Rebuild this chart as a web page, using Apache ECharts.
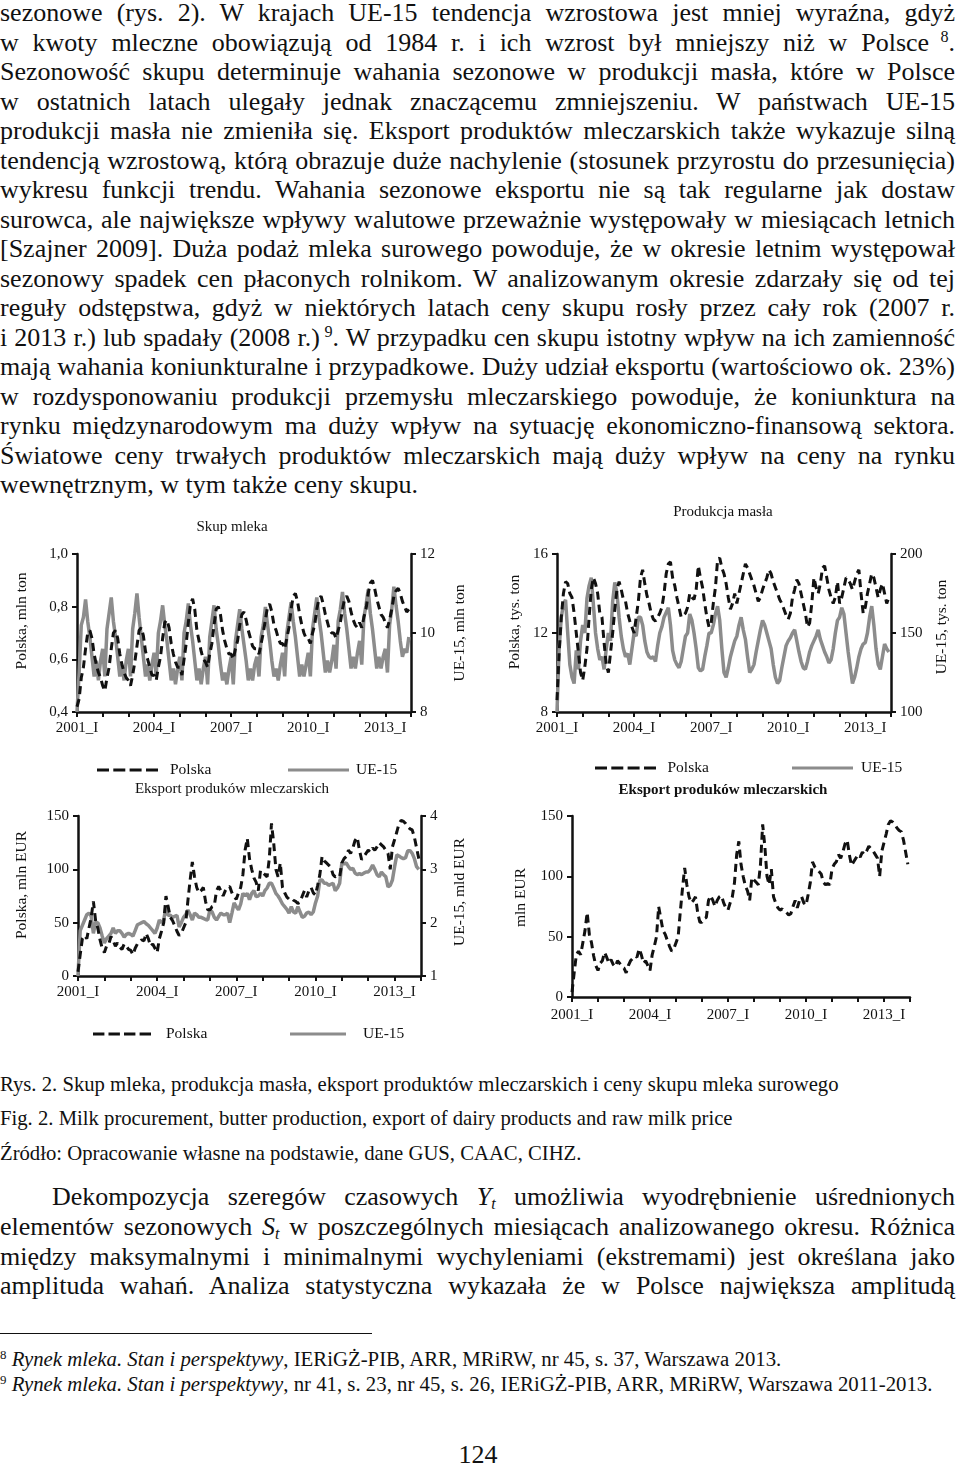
<!DOCTYPE html>
<html><head><meta charset="utf-8">
<script src="https://cdn.jsdelivr.net/npm/echarts/dist/echarts.min.js"></script>
<style>
html,body{margin:0;padding:0;background:#fff;}
#page{position:relative;width:960px;height:1467px;overflow:hidden;font-family:"Liberation Serif","Times New Roman",serif;color:#111;}
.ln{position:absolute;left:0;width:955px;font-size:26px;line-height:29.5px;white-space:nowrap;text-align:left;}
.cap{position:absolute;left:0;font-size:20.7px;line-height:24px;white-space:nowrap;}
.fn{position:absolute;left:0;font-size:20.8px;line-height:24px;white-space:nowrap;}
sup,sub{font-size:0.62em;line-height:0;}
sup{vertical-align:0.55em;}
sub{vertical-align:-0.25em;}
#chart{position:absolute;left:0;top:0;width:960px;height:1467px;}
</style></head>
<body><div id="page">
<div class="ln j" style="top:-2px">sezonowe (rys. 2). W krajach UE-15 tendencja wzrostowa jest mniej wyraźna, gdyż</div>
<div class="ln j" style="top:27.5px">w kwoty mleczne obowiązują od 1984 r. i ich wzrost był mniejszy niż w Polsce<sup> 8</sup>.</div>
<div class="ln j" style="top:57px">Sezonowość skupu determinuje wahania sezonowe w produkcji masła, które w Polsce</div>
<div class="ln j" style="top:86.5px">w ostatnich latach ulegały jednak znaczącemu zmniejszeniu. W państwach UE-15</div>
<div class="ln j" style="top:116px">produkcji masła nie zmieniła się. Eksport produktów mleczarskich także wykazuje silną</div>
<div class="ln j" style="top:145.5px">tendencją wzrostową, którą obrazuje duże nachylenie (stosunek przyrostu do przesunięcia)</div>
<div class="ln j" style="top:175px">wykresu funkcji trendu. Wahania sezonowe eksportu nie są tak regularne jak dostaw</div>
<div class="ln j" style="top:204.5px">surowca, ale największe wpływy walutowe przeważnie występowały w miesiącach letnich</div>
<div class="ln j" style="top:234px">[Szajner 2009]. Duża podaż mleka surowego powoduje, że w okresie letnim występował</div>
<div class="ln j" style="top:263.5px">sezonowy spadek cen płaconych rolnikom. W analizowanym okresie zdarzały się od tej</div>
<div class="ln j" style="top:293px">reguły odstępstwa, gdyż w niektórych latach ceny skupu rosły przez cały rok (2007 r.</div>
<div class="ln j" style="top:322.5px">i 2013 r.) lub spadały (2008 r.)<sup> 9</sup>. W przypadku cen skupu istotny wpływ na ich zamienność</div>
<div class="ln j" style="top:352px">mają wahania koniunkturalne i przypadkowe. Duży udział eksportu (wartościowo ok. 23%)</div>
<div class="ln j" style="top:381.5px">w rozdysponowaniu produkcji przemysłu mleczarskiego powoduje, że koniunktura na</div>
<div class="ln j" style="top:411px">rynku międzynarodowym ma duży wpływ na sytuację ekonomiczno-finansową sektora.</div>
<div class="ln j" style="top:440.5px">Światowe ceny trwałych produktów mleczarskich mają duży wpływ na ceny na rynku</div>
<div class="ln" style="top:470px">wewnętrznym, w tym także ceny skupu.</div>

<div class="cap" style="top:1072px">Rys. 2. Skup mleka, produkcja masła, eksport produktów mleczarskich i ceny skupu mleka surowego</div>
<div class="cap" style="top:1106px">Fig. 2. Milk procurement, butter production, export of dairy products and raw milk price</div>
<div class="cap" style="top:1141px">Źródło: Opracowanie własne na podstawie, dane GUS, CAAC, CIHZ.</div>

<div class="ln j" style="top:1181.5px;left:52px;width:903px">Dekompozycja szeregów czasowych <i>Y<sub>t</sub></i> umożliwia wyodrębnienie uśrednionych</div>
<div class="ln j" style="top:1211.5px">elementów sezonowych <i>S<sub>t</sub></i> w poszczególnych miesiącach analizowanego okresu. Różnica</div>
<div class="ln j" style="top:1241.5px">między maksymalnymi i minimalnymi wychyleniami (ekstremami) jest określana jako</div>
<div class="ln j" style="top:1270.5px">amplituda wahań. Analiza statystyczna wykazała że w Polsce największa amplitudą</div>

<div style="position:absolute;left:0;top:1333px;width:372px;height:0;border-top:1.5px solid #111"></div>
<div class="fn" style="top:1347px"><sup>8</sup> <i>Rynek mleka. Stan i perspektywy</i>, IERiGŻ-PIB, ARR, MRiRW, nr 45, s. 37, Warszawa 2013.</div>
<div class="fn" style="top:1372px"><sup>9</sup> <i>Rynek mleka. Stan i perspektywy</i>, nr 41, s. 23, nr 45, s. 26, IERiGŻ-PIB, ARR, MRiRW, Warszawa 2011-2013.</div>
<div style="position:absolute;left:0;width:956px;top:1440px;text-align:center;font-size:26px;line-height:30px">124</div>

<div id="chart"></div>
</div>
<script>
// justify each body line to its box width via word-spacing
document.querySelectorAll('.ln.j').forEach(div => {
  const span = document.createElement('span');
  while (div.firstChild) span.appendChild(div.firstChild);
  div.appendChild(span);
  const W = div.clientWidth;
  const natural = span.getBoundingClientRect().width;
  const spaces = (span.textContent.match(/ /g) || []).length;
  if (spaces > 0) span.style.wordSpacing = ((W - natural) / spaces) + 'px';
});

// ---- categories / tick labels ----
const years = [2001,2002,2003,2004,2005,2006,2007,2008,2009,2010,2011,2012,2013];
const monthNames = ['I','II','III','IV','V','VI','VII','VIII','IX','X','XI','XII'];
const categories = [];
years.forEach(y => monthNames.forEach(m => categories.push(y + '_' + m)));
categories.push('2014_I');

// ---- Skup mleka: Polska (mln ton) ----
const skupPolska = [
0.42,0.45,0.53,0.57,0.64,0.70,0.71,0.68,0.62,0.58,0.55,0.53,
0.50,0.48,0.53,0.57,0.64,0.70,0.71,0.68,0.62,0.58,0.55,0.53,
0.52,0.50,0.54,0.59,0.65,0.71,0.72,0.69,0.63,0.60,0.57,0.54,
0.54,0.52,0.57,0.61,0.68,0.74,0.75,0.72,0.66,0.62,0.59,0.57,
0.57,0.54,0.60,0.66,0.74,0.81,0.83,0.79,0.71,0.67,0.63,0.60,
0.59,0.57,0.62,0.66,0.73,0.79,0.80,0.77,0.71,0.67,0.64,0.62,
0.62,0.60,0.64,0.67,0.73,0.77,0.78,0.75,0.71,0.68,0.65,0.64,
0.64,0.62,0.66,0.70,0.75,0.80,0.81,0.78,0.73,0.71,0.68,0.66,
0.66,0.64,0.68,0.72,0.79,0.84,0.85,0.82,0.77,0.73,0.70,0.68,
0.68,0.66,0.70,0.73,0.79,0.83,0.84,0.81,0.77,0.74,0.71,0.70,
0.70,0.68,0.71,0.74,0.79,0.83,0.84,0.82,0.78,0.75,0.73,0.72,
0.74,0.72,0.76,0.79,0.85,0.89,0.90,0.87,0.83,0.80,0.77,0.76,
0.74,0.72,0.75,0.79,0.84,0.86,0.87,0.85,0.82,0.80,0.78,0.79
];
// ---- Skup mleka: UE-15 (mln ton) ----
const skupUE = [
8.0,9.0,10.2,10.4,10.85,10.3,9.9,9.4,8.9,9.3,8.8,9.3,
9.6,8.9,10.1,10.5,10.9,10.3,9.9,9.4,8.9,9.2,8.8,9.3,
9.6,8.9,10.1,10.5,11.0,10.4,9.9,9.4,8.9,9.2,8.8,9.2,
9.5,8.9,10.0,10.3,10.7,10.2,9.8,9.3,8.8,9.1,8.7,9.1,
9.4,8.8,10.0,10.3,10.75,10.2,9.8,9.3,8.8,9.1,8.7,9.1,
9.4,8.7,9.9,10.3,10.7,10.1,9.7,9.2,8.8,9.0,8.7,9.1,
9.4,8.7,9.8,10.2,10.6,10.1,9.7,9.3,8.8,9.1,8.8,9.2,
9.4,8.9,9.9,10.2,10.66,10.2,9.8,9.3,8.9,9.1,8.8,9.2,
9.5,8.9,10.0,10.4,10.78,10.3,9.9,9.4,8.9,9.2,8.9,9.2,
9.5,8.9,10.1,10.5,10.9,10.4,10.0,9.5,9.0,9.3,9.0,9.3,
9.7,9.1,10.3,10.6,11.04,10.5,10.1,9.6,9.1,9.4,9.1,9.5,
9.8,9.2,10.4,10.7,11.1,10.5,10.1,9.6,9.1,9.4,9.1,9.4,
9.6,9.0,10.2,10.6,11.17,10.7,10.3,9.8,9.4,9.6,9.5,9.9
];
// ---- Produkcja masła: Polska (tys. ton) ----
const maslPolska = [
8.6,11.0,12.8,14.0,14.6,14.5,14.0,13.8,13.0,12.0,11.0,10.0,
9.6,10.3,11.2,12.8,14.2,14.8,14.5,14.0,13.0,12.8,11.5,10.4,
10.0,11.0,12.0,13.2,14.2,14.6,14.2,13.7,13.6,13.0,12.6,12.3,
12.0,12.8,13.6,14.8,15.2,14.5,13.9,13.5,13.0,12.7,12.6,12.8,
13.0,13.3,14.0,15.0,15.5,15.6,14.8,14.4,13.8,13.3,12.8,12.9,
13.0,13.3,14.0,13.8,13.7,14.2,15.4,14.8,14.3,13.5,12.8,12.3,
12.5,13.5,14.3,15.7,15.8,15.3,15.0,14.5,13.8,13.2,13.5,14.0,
13.5,14.0,14.5,15.0,15.5,15.3,15.0,14.7,14.4,14.0,13.6,13.8,
14.2,14.5,14.8,15.2,15.0,14.6,14.3,14.0,13.7,13.5,13.2,12.9,
12.7,13.0,13.8,14.2,14.7,14.5,14.0,13.5,13.0,12.3,12.5,13.5,
14.8,14.3,14.0,14.5,15.3,15.4,14.8,14.2,13.8,13.5,13.8,14.6,
13.5,13.8,14.3,14.8,14.7,14.5,14.2,14.6,15.0,15.2,14.0,13.0,
13.3,14.0,14.5,15.0,14.8,14.3,13.8,14.2,14.5,14.0,13.5,13.8
];
// ---- Produkcja masła: UE-15 (tys. ton) ----
const maslUE = [
100,140,160,168,171,150,130,122,118,139,127,145,
155,150,172,180,185,168,150,140,133,135,127,140,
150,145,170,182,175,160,148,140,135,137,130,140,
150,148,160,160,155,145,138,135,134,135,132,142,
150,154,160,163,166,155,139,133,130,128,132,140,
148,150,162,158,150,140,128,126,127,135,142,150,
150,155,162,167,158,140,125,122,128,135,140,145,
148,155,160,152,146,135,125,127,130,138,145,152,
158,155,150,145,140,130,122,118,120,128,135,142,
145,147,150,152,145,138,132,128,127,132,138,142,
145,148,152,146,142,138,135,131,133,140,150,158,
160,166,162,150,138,128,118,122,128,135,140,143,
144,150,160,167,155,140,130,127,135,143,140,138
];
// ---- Eksport: Polska (mln EUR) ----
const eksPolska = [
4,20,35,38,35,45,55,70,52,45,34,26,
22,28,30,37,33,28,31,27,25,30,28,25,
24,20,26,30,32,34,33,40,35,28,30,26,
22,35,42,50,75,65,55,52,47,42,38,40,
45,50,71,90,107,93,83,78,80,83,70,62,
62,65,66,80,84,80,75,80,83,84,78,74,
72,78,83,95,118,129,110,100,92,88,80,99,
97,95,93,110,143,125,100,93,106,83,78,74,
72,73,71,70,68,69,75,80,74,80,83,78,
76,85,95,112,108,106,104,102,95,93,94,93,
106,110,112,118,115,120,127,130,118,109,112,115,
118,116,120,118,121,125,123,121,118,115,100,121,
128,135,143,146,145,143,140,138,137,130,120,110
];
// ---- Eksport: UE-15 (mld EUR) ----
const eksUE = [
1.0,1.85,1.95,2.05,2.15,2.18,2.12,1.8,2.0,2.0,1.9,1.75,
1.62,1.7,1.75,1.8,1.9,1.8,1.85,1.85,1.8,1.73,1.78,1.8,
1.78,1.75,1.85,1.96,1.98,2.0,2.02,1.98,1.95,1.9,1.85,1.8,
1.9,2.05,2.0,2.05,2.3,2.14,2.14,2.1,2.12,2.14,1.92,2.0,
2.1,2.15,2.24,2.15,2.05,2.18,2.15,2.1,2.1,2.08,2.06,2.05,
2.24,2.2,2.1,2.05,2.12,2.18,2.15,2.15,2.18,2.0,2.18,2.37,
2.3,2.24,2.35,2.55,2.5,2.55,2.43,2.55,2.6,2.49,2.5,2.55,
2.5,2.6,2.65,2.74,2.74,2.65,2.55,2.5,2.43,2.35,2.3,2.25,
2.18,2.3,2.2,2.18,2.3,2.2,2.1,2.12,2.18,2.2,2.15,2.2,
2.37,2.5,2.8,2.8,2.74,2.74,2.7,2.72,2.74,2.6,2.65,2.74,
3.12,3.1,3.12,3.05,3.0,3.02,2.93,2.9,2.92,2.9,2.93,2.95,
2.95,3.0,3.08,3.0,2.9,2.86,2.95,2.9,2.86,2.67,2.7,2.8,
3.05,3.27,3.25,3.22,3.2,3.22,3.35,3.35,3.3,3.2,3.05,3.0
];

const FONT = '"Liberation Serif","Times New Roman",serif';
const BLACK = '#111';
const GRAY = '#8c8c8c';
const axisLineStyle = {show:true, lineStyle:{color:BLACK, width:2.5}};
const axisTickStyle = {show:true, length:5, lineStyle:{color:BLACK, width:2}};
const labelStyle = {color:BLACK, fontFamily:FONT, fontSize:15};

function xAxisFor(g, margin){
  return {type:'category', gridIndex:g, data:categories, boundaryGap:false,
    axisLine:axisLineStyle,
    axisTick:Object.assign({}, axisTickStyle, {interval:(i)=> i % 12 === 0}),
    axisLabel:Object.assign({}, labelStyle, {interval:(i)=> i % 36 === 0 && i < 156, margin:margin}),
    splitLine:{show:false}};
}
function yAxisFor(g, pos, min, max, interval, name, gap, shiftUp, fmt){
  return {type:'value', gridIndex:g, position:pos, min:min, max:max, interval:interval,
    axisLine:axisLineStyle, axisTick:axisTickStyle, splitLine:{show:false},
    axisLabel:Object.assign({}, labelStyle, {margin:9, formatter: fmt || (v=>String(v))}),
    name:name, nameLocation:'middle', nameRotate:90, nameGap:gap,
    nameTextStyle:{color:BLACK, fontFamily:FONT, fontSize:15.5, padding:[0,0,0,2*shiftUp]}};
}
const comma = v => v.toFixed(1).replace('.', ',');

const dashed = {color:BLACK, width:3, type:[8,5]};
const solid = {color:GRAY, width:3.5, type:'solid'};
function line(name, data, xi, yi, style, z){
  return {name:name, type:'line', data:data, xAxisIndex:xi, yAxisIndex:yi,
    symbol:'none', showSymbol:false, lineStyle:style, itemStyle:{color:style.color},
    animation:false, z:z, silent:true};
}
const DASH_ICON = 'path://M0,0h12v3h-12zM16.3,0h12v3h-12zM32.6,0h12v3h-12zM49,0h12v3h-12z';
const SOLID_ICON = 'path://M0,0h61v3h-61z';
function legendFor(name, left, top, w, icon, gapText){
  return {data:[name], left:left, top:top, itemWidth:w, itemHeight:3, icon:icon, selectedMode:false,
    textStyle:{color:BLACK, fontFamily:FONT, fontSize:15.5, padding:[0,0,0,gapText]}};
}
function txt(t, x, y, bold){
  return {type:'text', x:x, y:y, style:{text:t, fill:BLACK,
    font:(bold?'bold ':'')+'15px '+FONT, textAlign:'center', textVerticalAlign:'middle',
    align:'center', verticalAlign:'middle'}};
}

const chart = echarts.init(document.getElementById('chart'), null, {renderer:'canvas'});
chart.setOption({
  backgroundColor:'transparent',
  animation:false,
  grid:[
    {left:77, top:554, width:334, height:158},
    {left:557, top:554, width:334, height:158},
    {left:78, top:816, width:343, height:160},
    {left:572, top:816, width:338, height:181}
  ],
  xAxis:[xAxisFor(0,9), xAxisFor(1,9), xAxisFor(2,9), xAxisFor(3,11)],
  yAxis:[
    yAxisFor(0,'left',0.4,1.0,0.2,'Polska, mln ton',47,12,comma),
    yAxisFor(0,'right',8,12,2,'UE-15, mln ton',41,0),
    yAxisFor(1,'left',8,16,4,'Polska, tys. ton',34,11),
    yAxisFor(1,'right',100,200,50,'UE-15, tys. ton',43,6),
    yAxisFor(2,'left',0,150,50,'Polska, mln EUR',48,11),
    yAxisFor(2,'right',1,4,1,'UE-15, mld EUR',31,4),
    yAxisFor(3,'left',0,150,50,'mln EUR',43,9)
  ],
  legend:[
    legendFor('Polska',92,757,61,DASH_ICON,7), legendFor('UE-15',283,757,65,SOLID_ICON,0),
    legendFor('Polska',590,755,62,DASH_ICON,6), legendFor('UE-15',787,755,65,SOLID_ICON,1),
    legendFor('Polska',88,1021,58,DASH_ICON,10), legendFor('UE-15',285,1021,56,SOLID_ICON,12)
  ],
  graphic:[
    txt('Skup mleka',232,527,false),
    txt('Produkcja masła',723,512,false),
    txt('Eksport produków mleczarskich',232,789,false),
    txt('Eksport produków mleczarskich',723,790,true)
  ],
  series:[
    line('UE-15', skupUE, 0, 1, solid, 2),
    line('Polska', skupPolska, 0, 0, dashed, 3),
    line('UE-15', maslUE, 1, 3, solid, 2),
    line('Polska', maslPolska, 1, 2, dashed, 3),
    line('UE-15', eksUE, 2, 5, solid, 2),
    line('Polska', eksPolska, 2, 4, dashed, 3),
    line('Polska', eksPolska, 3, 6, dashed, 3)
  ]
});
</script>
</body></html>
